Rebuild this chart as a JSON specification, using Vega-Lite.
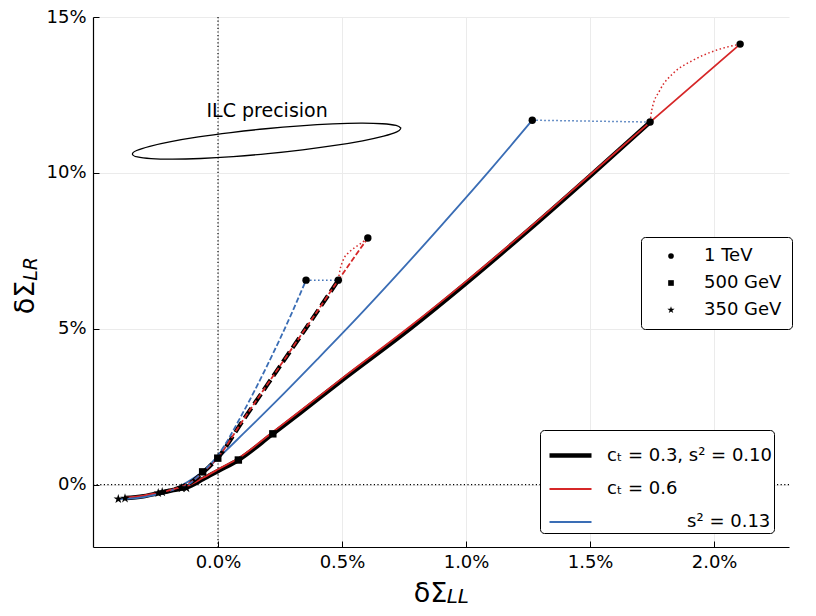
{
  "$schema": "https://vega.github.io/schema/vega-lite/v6.json",
  "width": 696,
  "height": 530,
  "autosize": {"type": "none"},
  "padding": {"left": 93, "top": 17, "right": 27, "bottom": 69},
  "config": {
    "view": {"stroke": null},
    "font": "DejaVu Sans",
    "axis": {
      "grid": true, "gridColor": "#ebebeb", "gridWidth": 1,
      "tickSize": -6, "tickColor": "black", "tickWidth": 1,
      "domainColor": "black", "domainWidth": 1.2,
      "labelFontSize": 18, "labelColor": "black", "labelFont": "DejaVu Sans",
      "labelPadding": 12, "labelFlush": false, "labelOverlap": false,
      "titleFont": "DejaVu Sans", "titleFontSize": 27, "titleFontWeight": "normal", "titleColor": "black"
    }
  },
  "datasets": {
    "curves": [
      {"c": "Sk", "p": "k", "m": "solid", "i": 1, "x": -0.375, "y": -0.43},
      {"c": "Sk", "p": "k", "m": "solid", "i": 2, "x": -0.30, "y": -0.37},
      {"c": "Sk", "p": "k", "m": "solid", "i": 3, "x": -0.241, "y": -0.28},
      {"c": "Sk", "p": "k", "m": "solid", "i": 4, "x": -0.18, "y": -0.17},
      {"c": "Sk", "p": "k", "m": "solid", "i": 5, "x": -0.127, "y": -0.09},
      {"c": "Sk", "p": "k", "m": "solid", "i": 6, "x": -0.06, "y": 0.18},
      {"c": "Sk", "p": "k", "m": "solid", "i": 7, "x": 0.0, "y": 0.44},
      {"c": "Sk", "p": "k", "m": "solid", "i": 8, "x": 0.082, "y": 0.79},
      {"c": "Sk", "p": "k", "m": "solid", "i": 9, "x": 0.221, "y": 1.63},
      {"c": "Sk", "p": "k", "m": "solid", "i": 10, "x": 0.331, "y": 2.30},
      {"c": "Sk", "p": "k", "m": "solid", "i": 11, "x": 0.5, "y": 3.35},
      {"c": "Sk", "p": "k", "m": "solid", "i": 12, "x": 0.774, "y": 5.0},
      {"c": "Sk", "p": "k", "m": "solid", "i": 13, "x": 1.0, "y": 6.46},
      {"c": "Sk", "p": "k", "m": "solid", "i": 14, "x": 1.25, "y": 8.15},
      {"c": "Sk", "p": "k", "m": "solid", "i": 15, "x": 1.5, "y": 9.9},
      {"c": "Sk", "p": "k", "m": "solid", "i": 16, "x": 1.742, "y": 11.63},

      {"c": "Sr", "p": "r", "m": "solid", "i": 1, "x": -0.375, "y": -0.42},
      {"c": "Sr", "p": "r", "m": "solid", "i": 2, "x": -0.30, "y": -0.35},
      {"c": "Sr", "p": "r", "m": "solid", "i": 3, "x": -0.241, "y": -0.26},
      {"c": "Sr", "p": "r", "m": "solid", "i": 4, "x": -0.18, "y": -0.15},
      {"c": "Sr", "p": "r", "m": "solid", "i": 5, "x": -0.127, "y": -0.06},
      {"c": "Sr", "p": "r", "m": "solid", "i": 6, "x": -0.06, "y": 0.22},
      {"c": "Sr", "p": "r", "m": "solid", "i": 7, "x": 0.0, "y": 0.49},
      {"c": "Sr", "p": "r", "m": "solid", "i": 8, "x": 0.082, "y": 0.85},
      {"c": "Sr", "p": "r", "m": "solid", "i": 9, "x": 0.221, "y": 1.69},
      {"c": "Sr", "p": "r", "m": "solid", "i": 10, "x": 0.331, "y": 2.36},
      {"c": "Sr", "p": "r", "m": "solid", "i": 11, "x": 0.5, "y": 3.41},
      {"c": "Sr", "p": "r", "m": "solid", "i": 12, "x": 0.774, "y": 5.07},
      {"c": "Sr", "p": "r", "m": "solid", "i": 13, "x": 1.0, "y": 6.52},
      {"c": "Sr", "p": "r", "m": "solid", "i": 14, "x": 1.25, "y": 8.2},
      {"c": "Sr", "p": "r", "m": "solid", "i": 15, "x": 1.5, "y": 9.94},
      {"c": "Sr", "p": "r", "m": "solid", "i": 16, "x": 1.742, "y": 11.63},
      {"c": "Sr", "p": "r", "m": "solid", "i": 17, "x": 2.105, "y": 14.13},

      {"c": "Sb", "p": "b", "m": "solid", "i": 1, "x": -0.402, "y": -0.46},
      {"c": "Sb", "p": "b", "m": "solid", "i": 2, "x": -0.33, "y": -0.43},
      {"c": "Sb", "p": "b", "m": "solid", "i": 3, "x": -0.25, "y": -0.32},
      {"c": "Sb", "p": "b", "m": "solid", "i": 4, "x": -0.18, "y": -0.16},
      {"c": "Sb", "p": "b", "m": "solid", "i": 5, "x": -0.12, "y": 0.1},
      {"c": "Sb", "p": "b", "m": "solid", "i": 6, "x": -0.06, "y": 0.42},
      {"c": "Sb", "p": "b", "m": "solid", "i": 7, "x": 0.0, "y": 0.85},
      {"c": "Sb", "p": "b", "m": "solid", "i": 8, "x": 0.1, "y": 1.62},
      {"c": "Sb", "p": "b", "m": "solid", "i": 9, "x": 0.25, "y": 2.80},
      {"c": "Sb", "p": "b", "m": "solid", "i": 10, "x": 0.4, "y": 4.02},
      {"c": "Sb", "p": "b", "m": "solid", "i": 11, "x": 0.55, "y": 5.26},
      {"c": "Sb", "p": "b", "m": "solid", "i": 12, "x": 0.734, "y": 6.84},
      {"c": "Sb", "p": "b", "m": "solid", "i": 13, "x": 0.9, "y": 8.31},
      {"c": "Sb", "p": "b", "m": "solid", "i": 14, "x": 1.1, "y": 10.12},
      {"c": "Sb", "p": "b", "m": "solid", "i": 15, "x": 1.267, "y": 11.69},

      {"c": "Dk", "p": "k", "m": "dashed", "i": 1, "x": -0.241, "y": -0.27},
      {"c": "Dk", "p": "k", "m": "dashed", "i": 2, "x": -0.20, "y": -0.20},
      {"c": "Dk", "p": "k", "m": "dashed", "i": 3, "x": -0.15, "y": -0.08},
      {"c": "Dk", "p": "k", "m": "dashed", "i": 4, "x": -0.10, "y": 0.12},
      {"c": "Dk", "p": "k", "m": "dashed", "i": 5, "x": -0.062, "y": 0.38},
      {"c": "Dk", "p": "k", "m": "dashed", "i": 6, "x": 0.0, "y": 0.87},
      {"c": "Dk", "p": "k", "m": "dashed", "i": 7, "x": 0.1, "y": 2.05},
      {"c": "Dk", "p": "k", "m": "dashed", "i": 8, "x": 0.25, "y": 3.80},
      {"c": "Dk", "p": "k", "m": "dashed", "i": 9, "x": 0.4, "y": 5.55},
      {"c": "Dk", "p": "k", "m": "dashed", "i": 10, "x": 0.485, "y": 6.56},

      {"c": "Dr", "p": "r", "m": "dashed", "i": 1, "x": -0.241, "y": -0.26},
      {"c": "Dr", "p": "r", "m": "dashed", "i": 2, "x": -0.20, "y": -0.19},
      {"c": "Dr", "p": "r", "m": "dashed", "i": 3, "x": -0.15, "y": -0.07},
      {"c": "Dr", "p": "r", "m": "dashed", "i": 4, "x": -0.10, "y": 0.13},
      {"c": "Dr", "p": "r", "m": "dashed", "i": 5, "x": -0.062, "y": 0.39},
      {"c": "Dr", "p": "r", "m": "dashed", "i": 6, "x": 0.0, "y": 0.88},
      {"c": "Dr", "p": "r", "m": "dashed", "i": 7, "x": 0.1, "y": 2.06},
      {"c": "Dr", "p": "r", "m": "dashed", "i": 8, "x": 0.25, "y": 3.81},
      {"c": "Dr", "p": "r", "m": "dashed", "i": 9, "x": 0.4, "y": 5.56},
      {"c": "Dr", "p": "r", "m": "dashed", "i": 10, "x": 0.485, "y": 6.56},
      {"c": "Dr", "p": "r", "m": "dashed", "i": 11, "x": 0.604, "y": 7.91},

      {"c": "Db", "p": "b", "m": "dashed", "i": 1, "x": -0.147, "y": -0.11},
      {"c": "Db", "p": "b", "m": "dashed", "i": 2, "x": -0.12, "y": 0.0},
      {"c": "Db", "p": "b", "m": "dashed", "i": 3, "x": -0.08, "y": 0.27},
      {"c": "Db", "p": "b", "m": "dashed", "i": 4, "x": -0.04, "y": 0.58},
      {"c": "Db", "p": "b", "m": "dashed", "i": 5, "x": 0.0, "y": 0.95},
      {"c": "Db", "p": "b", "m": "dashed", "i": 6, "x": 0.1, "y": 2.3},
      {"c": "Db", "p": "b", "m": "dashed", "i": 7, "x": 0.2, "y": 3.85},
      {"c": "Db", "p": "b", "m": "dashed", "i": 8, "x": 0.3, "y": 5.55},
      {"c": "Db", "p": "b", "m": "dashed", "i": 9, "x": 0.355, "y": 6.56},

      {"c": "Lb1", "p": "b", "m": "dotted", "i": 1, "x": 1.267, "y": 11.69},
      {"c": "Lb1", "p": "b", "m": "dotted", "i": 2, "x": 1.742, "y": 11.63},
      {"c": "Lr1", "p": "r", "m": "dotted", "i": 1, "x": 1.742, "y": 11.63},
      {"c": "Lr1", "p": "r", "m": "dotted", "i": 2, "x": 1.749, "y": 12.02},
      {"c": "Lr1", "p": "r", "m": "dotted", "i": 3, "x": 1.782, "y": 12.66},
      {"c": "Lr1", "p": "r", "m": "dotted", "i": 4, "x": 1.836, "y": 13.20},
      {"c": "Lr1", "p": "r", "m": "dotted", "i": 5, "x": 1.917, "y": 13.62},
      {"c": "Lr1", "p": "r", "m": "dotted", "i": 6, "x": 2.011, "y": 13.94},
      {"c": "Lr1", "p": "r", "m": "dotted", "i": 7, "x": 2.105, "y": 14.13},
      {"c": "Lb2", "p": "b", "m": "dotted", "i": 1, "x": 0.355, "y": 6.56},
      {"c": "Lb2", "p": "b", "m": "dotted", "i": 2, "x": 0.485, "y": 6.56},
      {"c": "Lr2", "p": "r", "m": "dotted", "i": 1, "x": 0.485, "y": 6.56},
      {"c": "Lr2", "p": "r", "m": "dotted", "i": 2, "x": 0.492, "y": 6.89},
      {"c": "Lr2", "p": "r", "m": "dotted", "i": 3, "x": 0.505, "y": 7.21},
      {"c": "Lr2", "p": "r", "m": "dotted", "i": 4, "x": 0.532, "y": 7.48},
      {"c": "Lr2", "p": "r", "m": "dotted", "i": 5, "x": 0.573, "y": 7.72},
      {"c": "Lr2", "p": "r", "m": "dotted", "i": 6, "x": 0.604, "y": 7.91}
    ],
    "markers": [
      {"e": "1 TeV", "x": 1.267, "y": 11.69},
      {"e": "1 TeV", "x": 1.742, "y": 11.63},
      {"e": "1 TeV", "x": 2.105, "y": 14.13},
      {"e": "1 TeV", "x": 0.355, "y": 6.56},
      {"e": "1 TeV", "x": 0.485, "y": 6.56},
      {"e": "1 TeV", "x": 0.604, "y": 7.91},
      {"e": "500 GeV", "x": -0.062, "y": 0.41},
      {"e": "500 GeV", "x": -0.001, "y": 0.85},
      {"e": "500 GeV", "x": 0.082, "y": 0.79},
      {"e": "500 GeV", "x": 0.221, "y": 1.63},
      {"e": "350 GeV", "x": -0.402, "y": -0.46},
      {"e": "350 GeV", "x": -0.375, "y": -0.44},
      {"e": "350 GeV", "x": -0.241, "y": -0.27},
      {"e": "350 GeV", "x": -0.225, "y": -0.24},
      {"e": "350 GeV", "x": -0.147, "y": -0.11},
      {"e": "350 GeV", "x": -0.127, "y": -0.11}
    ],
    "ellipse": [
      {"i": 0, "x": 0.738, "y": 11.433},
      {"i": 1, "x": 0.721, "y": 11.315},
      {"i": 2, "x": 0.668, "y": 11.178},
      {"i": 3, "x": 0.583, "y": 11.029},
      {"i": 4, "x": 0.471, "y": 10.879},
      {"i": 5, "x": 0.341, "y": 10.739},
      {"i": 6, "x": 0.201, "y": 10.617},
      {"i": 7, "x": 0.061, "y": 10.523},
      {"i": 8, "x": -0.070, "y": 10.462},
      {"i": 9, "x": -0.183, "y": 10.439},
      {"i": 10, "x": -0.270, "y": 10.456},
      {"i": 11, "x": -0.325, "y": 10.510},
      {"i": 12, "x": -0.345, "y": 10.599},
      {"i": 13, "x": -0.328, "y": 10.717},
      {"i": 14, "x": -0.275, "y": 10.854},
      {"i": 15, "x": -0.190, "y": 11.003},
      {"i": 16, "x": -0.079, "y": 11.153},
      {"i": 17, "x": 0.052, "y": 11.293},
      {"i": 18, "x": 0.192, "y": 11.415},
      {"i": 19, "x": 0.332, "y": 11.509},
      {"i": 20, "x": 0.463, "y": 11.570},
      {"i": 21, "x": 0.576, "y": 11.593},
      {"i": 22, "x": 0.663, "y": 11.576},
      {"i": 23, "x": 0.718, "y": 11.522},
      {"i": 24, "x": 0.738, "y": 11.433}
    ]
  },
  "layer": [
    {
      "data": {"name": "curves"},
      "transform": [{"filter": "datum.m == 'solid'"}],
      "mark": {"type": "line", "interpolate": "monotone"},
      "encoding": {
        "x": {
          "field": "x", "type": "quantitative",
          "scale": {"domain": [-0.504, 2.302], "nice": false, "zero": false},
          "axis": {
            "values": [0, 0.5, 1, 1.5, 2],
            "labelExpr": "format(datum.value, '.1f') + '%'",
            "title": "δΣ",
            "titleX": 337, "titleY": 54, "titleAlign": "center", "titleBaseline": "alphabetic"
          }
        },
        "y": {
          "field": "y", "type": "quantitative",
          "scale": {"domain": [-2, 15], "nice": false, "zero": false},
          "axis": {
            "values": [0, 5, 10, 15],
            "labelExpr": "format(datum.value, 'd') + '%'",
            "labelPadding": 13,
            "title": "δΣ",
            "titleAngle": 270, "titleX": -60, "titleY": 280, "titleAlign": "center", "titleBaseline": "alphabetic"
          }
        },
        "color": {
          "field": "p", "type": "nominal",
          "scale": {"domain": ["k", "r", "b"], "range": ["#000000", "#d62728", "#3a6db5"]},
          "legend": {
            "orient": "none", "legendX": 447, "legendY": 413, "title": null,
            "symbolType": "stroke", "symbolSize": 1764, "symbolOffset": 5,
            "labelFontSize": 18, "labelColor": "black", "labelLimit": 400, "labelOffset": 13,
            "padding": 2, "rowPadding": 2,
            "strokeColor": "black", "fillColor": "white", "cornerRadius": 4,
            "labelExpr": "datum.value == 'k' ? 'cₜ = 0.3, s² = 0.10\u00a0' : datum.value == 'r' ? 'cₜ = 0.6' : '\u200b\u00a0\u00a0\u00a0\u00a0\u00a0\u00a0\u00a0\u00a0\u00a0\u00a0\u00a0\u00a0\u00a0\u00a0s² = 0.13'"
          }
        },
        "strokeWidth": {
          "field": "p", "type": "nominal",
          "scale": {"type": "ordinal", "domain": ["k", "r", "b"], "range": [4.5, 1.8, 1.8]},
          "legend": {
            "orient": "none", "legendX": 447, "legendY": 413, "title": null,
            "symbolType": "stroke", "symbolSize": 1764, "symbolOffset": 5,
            "labelFontSize": 18, "labelColor": "black", "labelLimit": 400, "labelOffset": 13,
            "padding": 2, "rowPadding": 2,
            "strokeColor": "black", "fillColor": "white", "cornerRadius": 4,
            "labelExpr": "datum.value == 'k' ? 'cₜ = 0.3, s² = 0.10\u00a0' : datum.value == 'r' ? 'cₜ = 0.6' : '\u200b\u00a0\u00a0\u00a0\u00a0\u00a0\u00a0\u00a0\u00a0\u00a0\u00a0\u00a0\u00a0\u00a0\u00a0s² = 0.13'"
          }
        },
        "detail": {"field": "c"},
        "order": {"field": "i"}
      }
    },
    {
      "data": {"name": "curves"},
      "transform": [{"filter": "datum.m == 'dashed' && datum.p == 'k'"}],
      "mark": {"type": "line", "interpolate": "monotone", "strokeWidth": 4.2, "strokeDash": [12, 5]},
      "encoding": {
        "x": {"field": "x", "type": "quantitative"},
        "y": {"field": "y", "type": "quantitative"},
        "color": {"field": "p", "type": "nominal"},
        "detail": {"field": "c"},
        "order": {"field": "i"}
      }
    },
    {
      "data": {"name": "curves"},
      "transform": [{"filter": "datum.m == 'dashed' && datum.p != 'k'"}],
      "mark": {"type": "line", "interpolate": "monotone", "strokeWidth": 1.8, "strokeDash": [5.5, 2.4]},
      "encoding": {
        "x": {"field": "x", "type": "quantitative"},
        "y": {"field": "y", "type": "quantitative"},
        "color": {"field": "p", "type": "nominal"},
        "detail": {"field": "c"},
        "order": {"field": "i"}
      }
    },
    {
      "data": {"name": "curves"},
      "transform": [{"filter": "datum.m == 'dotted'"}],
      "mark": {"type": "line", "interpolate": "monotone", "strokeWidth": 1.5, "strokeDash": [1.5, 2.5]},
      "encoding": {
        "x": {"field": "x", "type": "quantitative"},
        "y": {"field": "y", "type": "quantitative"},
        "color": {"field": "p", "type": "nominal"},
        "detail": {"field": "c"},
        "order": {"field": "i"}
      }
    },
    {
      "data": {"values": [{}]},
      "mark": {"type": "rule", "color": "black", "strokeWidth": 1.2, "strokeDash": [1.2, 2.4]},
      "encoding": {"x": {"datum": 0}}
    },
    {
      "data": {"values": [{}]},
      "mark": {"type": "rule", "color": "black", "strokeWidth": 1.2, "strokeDash": [1.2, 2.4]},
      "encoding": {"y": {"datum": 0}}
    },
    {
      "data": {"name": "ellipse"},
      "mark": {"type": "line", "interpolate": "cardinal", "color": "black", "strokeWidth": 1.3},
      "encoding": {
        "x": {"field": "x", "type": "quantitative"},
        "y": {"field": "y", "type": "quantitative"},
        "order": {"field": "i"}
      }
    },
    {
      "data": {"name": "markers"},
      "mark": {"type": "point", "filled": true, "color": "black", "size": 55, "opacity": 1},
      "encoding": {
        "x": {"field": "x", "type": "quantitative"},
        "y": {"field": "y", "type": "quantitative"},
        "shape": {
          "field": "e", "type": "nominal",
          "scale": {
            "domain": ["1 TeV", "500 GeV", "350 GeV"],
            "range": ["circle", "square", "M0,-1.35L0.303,-0.417L1.284,-0.417L0.49,0.159L0.794,1.092L0,0.516L-0.794,1.092L-0.49,0.159L-1.284,-0.417L-0.303,-0.417Z"]
          },
          "legend": {
            "orient": "none", "legendX": 548, "legendY": 220, "title": null,
            "labelFontSize": 18, "labelColor": "black", "labelOffset": 24,
            "padding": 10, "rowPadding": 9,
            "strokeColor": "black", "fillColor": "white", "cornerRadius": 4,
            "symbolSize": 32, "symbolFillColor": "black", "symbolStrokeColor": "black", "symbolStrokeWidth": 0,
            "symbolOffset": 11
          }
        }
      }
    },
    {
      "data": {"values": [{}]},
      "mark": {"type": "text", "fontSize": 19, "align": "center", "baseline": "alphabetic", "color": "black", "font": "DejaVu Sans"},
      "encoding": {"x": {"datum": 0.198}, "y": {"datum": 11.8}, "text": {"value": "ILC precision"}}
    },
    {
      "data": {"values": [{}]},
      "mark": {"type": "text", "fontSize": 20, "fontStyle": "italic", "align": "left", "baseline": "alphabetic", "color": "black", "font": "DejaVu Sans"},
      "encoding": {"x": {"datum": 0.922}, "y": {"datum": -3.81}, "text": {"value": "LL"}}
    },
    {
      "data": {"values": [{}]},
      "mark": {"type": "text", "fontSize": 19, "fontStyle": "italic", "align": "left", "baseline": "alphabetic", "angle": 270, "color": "black", "font": "DejaVu Sans"},
      "encoding": {"x": {"datum": -0.731}, "y": {"datum": 6.54}, "text": {"value": "LR"}}
    }
  ]
}
